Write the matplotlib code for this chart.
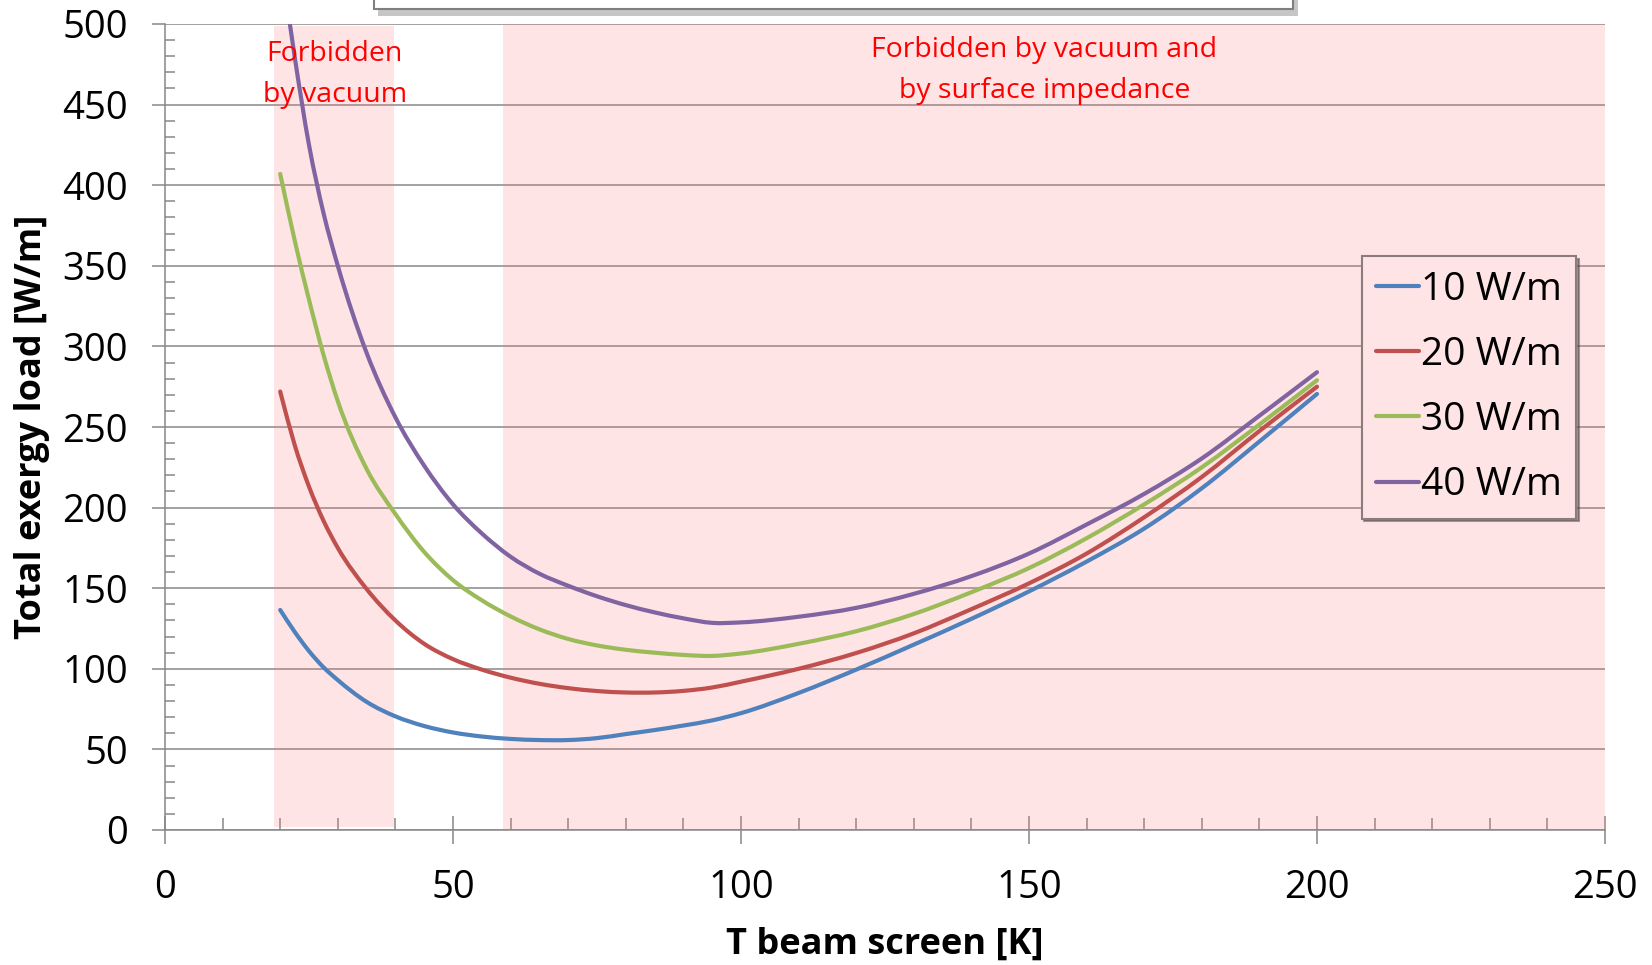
import matplotlib
matplotlib.use("Agg")
import numpy as np
import matplotlib.pyplot as plt
from matplotlib.patches import Rectangle, PathPatch
from matplotlib.path import Path
from matplotlib.lines import Line2D
from matplotlib.ticker import MultipleLocator

plt.rcParams['font.family'] = ['Open Sans', 'DejaVu Sans']

# ---- data ----
T = [20, 22.5, 25, 27.5, 30, 35, 40, 45, 50, 55, 60, 65, 70, 75, 80, 85, 90, 95,
     100, 110, 120, 130, 140, 150, 160, 170, 180, 190, 200]
load_10 = [136.5, 123, 111, 101, 93, 79.5, 70.5, 64.5, 60.5, 58, 56.5, 55.8, 55.8, 57, 59.5,
           62, 64.8, 68, 72.5, 85, 99.5, 115, 131, 148, 166.5, 187, 212, 241, 270.5]
load_20 = [272, 239, 213, 192, 175, 149.5, 130, 115.5, 106, 99.5, 94.5, 90.7, 88, 86.2, 85.3,
           85.3, 86.3, 88.4, 92, 100, 109.8, 122, 137, 153, 171.5, 194, 219, 247.5, 275]
load_30 = [407, 366, 329, 295, 266, 224, 196, 172.5, 155, 142.5, 132.5, 124.5, 118.5, 114.5,
           111.8, 110, 108.6, 108, 109.5, 115.5, 123.3, 134, 147.5, 162.5, 181, 202, 225,
           251.5, 279]
load_40 = [542, 480, 425, 383, 350, 296, 256, 226, 202, 184, 169.5, 159, 151.5, 145, 139.5,
           135, 131.3, 128.5, 128.8, 132.3, 137.8, 146.5, 157.5, 171.5, 189.5, 208.5, 230.5,
           257, 284]
series_labels = ['10 W/m', '20 W/m', '30 W/m', '40 W/m']
series_colors = ['#4F81BD', '#C0504D', '#9BBB59', '#8064A2']

forbid_vac = (19.0, 39.8)
forbid_both = (58.7, 250)
note_vac = 'Forbidden\nby vacuum'
note_both = 'Forbidden by vacuum and\nby surface impedance'

xlabel = 'T beam screen [K]'
ylabel = 'Total exergy load [W/m]'


def smooth_path(xs, ys):
    """Cubic Bezier path through the points (Excel-like smoothed line)."""
    x = np.asarray(xs, float)
    y = np.asarray(ys, float)
    n = len(x)
    m = np.empty(n)
    m[0] = (y[1] - y[0]) / (x[1] - x[0])
    m[-1] = (y[-1] - y[-2]) / (x[-1] - x[-2])
    for i in range(1, n - 1):
        h0, h1 = x[i] - x[i - 1], x[i + 1] - x[i]
        d0, d1 = (y[i] - y[i - 1]) / h0, (y[i + 1] - y[i]) / h1
        m[i] = (h1 * d0 + h0 * d1) / (h0 + h1)
    verts = [(x[0], y[0])]
    codes = [Path.MOVETO]
    for i in range(n - 1):
        h = x[i + 1] - x[i]
        verts += [(x[i] + h / 3, y[i] + m[i] * h / 3),
                  (x[i + 1] - h / 3, y[i + 1] - m[i + 1] * h / 3),
                  (x[i + 1], y[i + 1])]
        codes += [Path.CURVE4] * 3
    return Path(verts, codes)


# ---- figure ----
W, H = 1652, 965
fig = plt.figure(figsize=(W / 100, H / 100), dpi=100)
ax = fig.add_axes([165 / W, 1 - 830 / H, (1605 - 165) / W, (830 - 24) / H])

grid_c = '#878787'
span_c = (1.0, 120 / 255, 130 / 255)

ax.axvspan(*forbid_vac, ymin=0.004, ymax=0.997, color=span_c, alpha=0.2, lw=0, zorder=2)
ax.axvspan(*forbid_both, ymin=0, ymax=1, color=span_c, alpha=0.2, lw=0, zorder=2)

handles = []
for ys, lab, col in zip([load_10, load_20, load_30, load_40], series_labels, series_colors):
    pp = PathPatch(smooth_path(T, ys), fill=False, edgecolor=col, lw=3.0, zorder=3,
                   capstyle='round', joinstyle='round')
    ax.add_patch(pp)
    handles.append(Line2D([], [], color=col, lw=3.0, solid_capstyle='round'))

ax.set_xlim(0, 250)
ax.set_ylim(0, 500)
ax.xaxis.set_major_locator(MultipleLocator(50))
ax.xaxis.set_minor_locator(MultipleLocator(10))
ax.yaxis.set_major_locator(MultipleLocator(50))
ax.yaxis.set_minor_locator(MultipleLocator(10))

ax.grid(axis='y', which='major', color=grid_c, lw=1.1, zorder=1)
ax.set_axisbelow(True)
for s in ['top', 'right']:
    ax.spines[s].set_visible(False)
for s in ['left', 'bottom']:
    ax.spines[s].set_color(grid_c)
    ax.spines[s].set_linewidth(1.1)

ax.tick_params(axis='y', which='major', direction='out', length=9.5, width=1.1,
               color=grid_c, labelsize=27.5, pad=17)
ax.tick_params(axis='y', which='minor', direction='in', length=7, width=1.1, color=grid_c)
ax.tick_params(axis='x', which='major', direction='inout', length=20, width=1.1,
               color=grid_c, labelsize=27.5, pad=18)
ax.tick_params(axis='x', which='minor', direction='in', length=8.5, width=1.1, color=grid_c)

ax.set_xlabel(xlabel, fontsize=26, fontweight='bold', labelpad=14)
ax.set_ylabel(ylabel, fontsize=26, fontweight='bold', labelpad=9)

ax.text(29.5, 468.5, note_vac, color='#FF0000', fontsize=20.5, ha='center', va='center',
        linespacing=1.62, zorder=4)
ax.text(152.7, 471, note_both, color='#FF0000', fontsize=20.5, ha='center', va='center',
        linespacing=1.62, zorder=4)

leg = ax.legend(handles, series_labels, loc='upper left', bbox_to_anchor=(0.831, 0.712),
                fontsize=28, frameon=True, fancybox=False, shadow=True, handlelength=1.1,
                handletextpad=0.05, labelspacing=0.7, borderpad=0.37, borderaxespad=0)
leg.get_frame().set_facecolor('#FFE4E6')
leg.get_frame().set_edgecolor('#8C7C7C')
leg.get_frame().set_linewidth(1.5)
leg.set_zorder(5)

# partially visible title box at the very top
fig.patches.append(Rectangle((378 / W, 1 - 16 / H), (1298 - 378) / W, 0.1,
                             transform=fig.transFigure, facecolor='#A0A0A0',
                             edgecolor='none', alpha=0.6, zorder=0))
fig.patches.append(Rectangle((374 / W, 1 - 9 / H), (1293 - 374) / W, 0.1,
                             transform=fig.transFigure, facecolor='white',
                             edgecolor='#7F7F7F', lw=1.5, zorder=1))

fig.savefig('out.png', dpi=100)
